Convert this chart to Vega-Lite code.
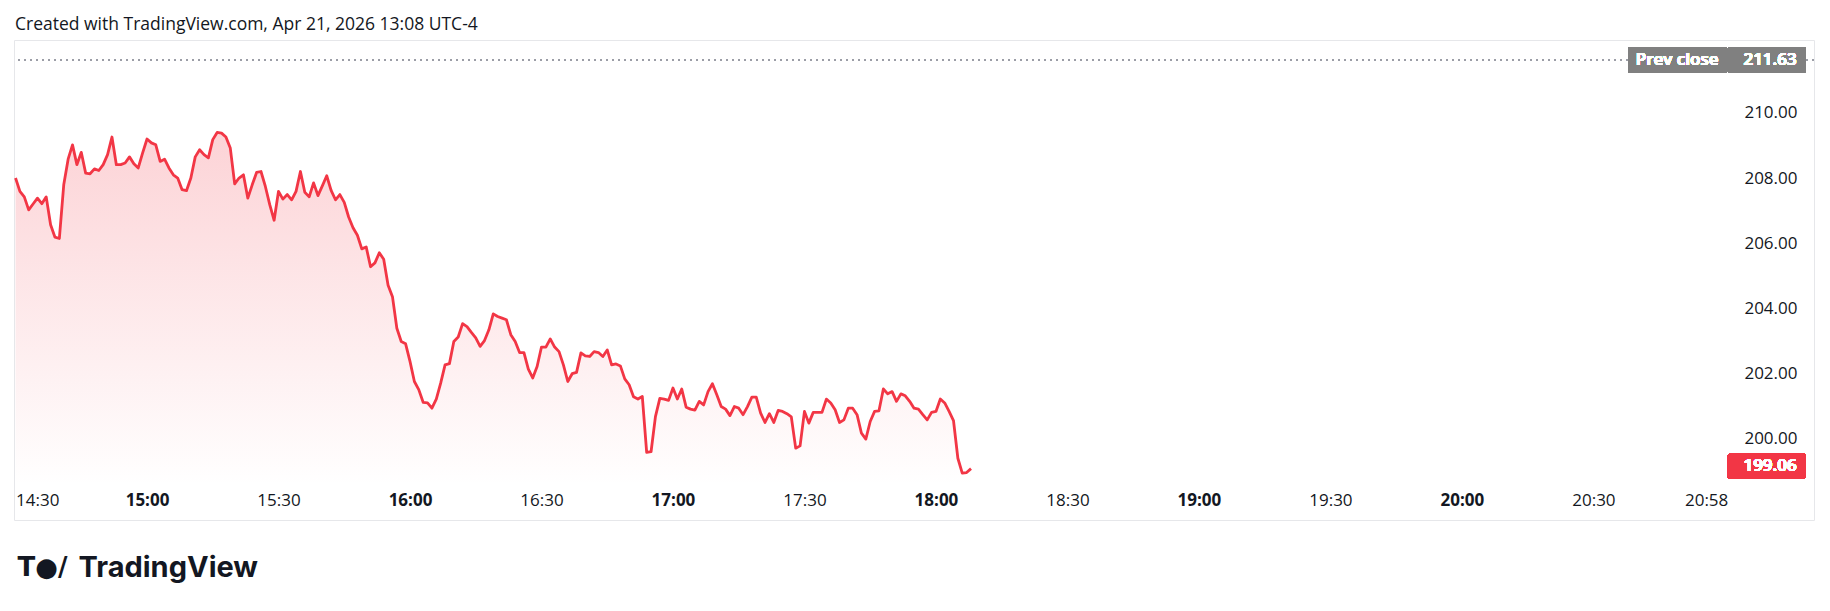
{
"$schema": "https://vega.github.io/schema/vega-lite/v6.json",
"width": 1800,
"height": 480,
"autosize": {"type": "none"},
"padding": {"left": 14, "top": 40, "right": 16, "bottom": 91},
"background": "#ffffff",
"title": {"text": "Created with TradingView.com, Apr 21, 2026 13:08 UTC-4", "anchor": "start", "frame": "group", "font": "Open Sans", "fontSize": 17.5, "fontWeight": "normal", "color": "#131722", "baseline": "alphabetic", "offset": 11, "dx": 1, "dy": 18},
"config": {"view": {"stroke": "#e6e7ea", "strokeWidth": 1}, "font": "Open Sans"},
"data": {"values": [
{"t":"2026-04-21T14:30","p":208.00},{"t":"2026-04-21T14:31","p":207.59},{"t":"2026-04-21T14:32","p":207.42},{"t":"2026-04-21T14:33","p":207.02},{"t":"2026-04-21T14:34","p":207.20},{"t":"2026-04-21T14:35","p":207.38},{"t":"2026-04-21T14:36","p":207.21},{"t":"2026-04-21T14:37","p":207.42},{"t":"2026-04-21T14:38","p":206.56},{"t":"2026-04-21T14:39","p":206.18},
{"t":"2026-04-21T14:40","p":206.14},{"t":"2026-04-21T14:41","p":207.79},{"t":"2026-04-21T14:42","p":208.58},{"t":"2026-04-21T14:43","p":209.02},{"t":"2026-04-21T14:44","p":208.41},{"t":"2026-04-21T14:45","p":208.79},{"t":"2026-04-21T14:46","p":208.15},{"t":"2026-04-21T14:47","p":208.13},{"t":"2026-04-21T14:48","p":208.28},{"t":"2026-04-21T14:49","p":208.23},
{"t":"2026-04-21T14:50","p":208.41},{"t":"2026-04-21T14:51","p":208.72},{"t":"2026-04-21T14:52","p":209.26},{"t":"2026-04-21T14:53","p":208.41},{"t":"2026-04-21T14:54","p":208.41},{"t":"2026-04-21T14:55","p":208.46},{"t":"2026-04-21T14:56","p":208.65},{"t":"2026-04-21T14:57","p":208.44},{"t":"2026-04-21T14:58","p":208.31},{"t":"2026-04-21T14:59","p":208.77},
{"t":"2026-04-21T15:00","p":209.20},{"t":"2026-04-21T15:01","p":209.08},{"t":"2026-04-21T15:02","p":209.02},{"t":"2026-04-21T15:03","p":208.51},{"t":"2026-04-21T15:04","p":208.58},{"t":"2026-04-21T15:05","p":208.31},{"t":"2026-04-21T15:06","p":208.10},{"t":"2026-04-21T15:07","p":208.00},{"t":"2026-04-21T15:08","p":207.64},{"t":"2026-04-21T15:09","p":207.61},
{"t":"2026-04-21T15:10","p":208.00},{"t":"2026-04-21T15:11","p":208.65},{"t":"2026-04-21T15:12","p":208.87},{"t":"2026-04-21T15:13","p":208.72},{"t":"2026-04-21T15:14","p":208.62},{"t":"2026-04-21T15:15","p":209.18},{"t":"2026-04-21T15:16","p":209.40},{"t":"2026-04-21T15:17","p":209.38},{"t":"2026-04-21T15:18","p":209.26},{"t":"2026-04-21T15:19","p":208.92},
{"t":"2026-04-21T15:20","p":207.82},{"t":"2026-04-21T15:21","p":208.00},{"t":"2026-04-21T15:22","p":208.10},{"t":"2026-04-21T15:23","p":207.38},{"t":"2026-04-21T15:24","p":207.79},{"t":"2026-04-21T15:25","p":208.17},{"t":"2026-04-21T15:26","p":208.20},{"t":"2026-04-21T15:27","p":207.74},{"t":"2026-04-21T15:28","p":207.18},{"t":"2026-04-21T15:29","p":206.70},
{"t":"2026-04-21T15:30","p":207.59},{"t":"2026-04-21T15:31","p":207.35},{"t":"2026-04-21T15:32","p":207.49},{"t":"2026-04-21T15:33","p":207.33},{"t":"2026-04-21T15:34","p":207.59},{"t":"2026-04-21T15:35","p":208.20},{"t":"2026-04-21T15:36","p":207.56},{"t":"2026-04-21T15:37","p":207.42},{"t":"2026-04-21T15:38","p":207.85},{"t":"2026-04-21T15:39","p":207.46},
{"t":"2026-04-21T15:40","p":207.76},{"t":"2026-04-21T15:41","p":208.07},{"t":"2026-04-21T15:42","p":207.62},{"t":"2026-04-21T15:43","p":207.33},{"t":"2026-04-21T15:44","p":207.49},{"t":"2026-04-21T15:45","p":207.25},{"t":"2026-04-21T15:46","p":206.80},{"t":"2026-04-21T15:47","p":206.47},{"t":"2026-04-21T15:48","p":206.24},{"t":"2026-04-21T15:49","p":205.82},
{"t":"2026-04-21T15:50","p":205.88},{"t":"2026-04-21T15:51","p":205.27},{"t":"2026-04-21T15:52","p":205.39},{"t":"2026-04-21T15:53","p":205.70},{"t":"2026-04-21T15:54","p":205.50},{"t":"2026-04-21T15:55","p":204.70},{"t":"2026-04-21T15:56","p":204.35},{"t":"2026-04-21T15:57","p":203.38},{"t":"2026-04-21T15:58","p":202.97},{"t":"2026-04-21T15:59","p":202.90},
{"t":"2026-04-21T16:00","p":202.36},{"t":"2026-04-21T16:01","p":201.74},{"t":"2026-04-21T16:02","p":201.49},{"t":"2026-04-21T16:03","p":201.10},{"t":"2026-04-21T16:04","p":201.08},{"t":"2026-04-21T16:05","p":200.92},{"t":"2026-04-21T16:06","p":201.20},{"t":"2026-04-21T16:07","p":201.69},{"t":"2026-04-21T16:08","p":202.25},{"t":"2026-04-21T16:09","p":202.29},
{"t":"2026-04-21T16:10","p":202.97},{"t":"2026-04-21T16:11","p":203.11},{"t":"2026-04-21T16:12","p":203.52},{"t":"2026-04-21T16:13","p":203.43},{"t":"2026-04-21T16:14","p":203.25},{"t":"2026-04-21T16:15","p":203.08},{"t":"2026-04-21T16:16","p":202.82},{"t":"2026-04-21T16:17","p":203.00},{"t":"2026-04-21T16:18","p":203.33},{"t":"2026-04-21T16:19","p":203.82},
{"t":"2026-04-21T16:20","p":203.74},{"t":"2026-04-21T16:21","p":203.69},{"t":"2026-04-21T16:22","p":203.64},{"t":"2026-04-21T16:23","p":203.18},{"t":"2026-04-21T16:24","p":202.97},{"t":"2026-04-21T16:25","p":202.63},{"t":"2026-04-21T16:26","p":202.63},{"t":"2026-04-21T16:27","p":202.12},{"t":"2026-04-21T16:28","p":201.85},{"t":"2026-04-21T16:29","p":202.20},
{"t":"2026-04-21T16:30","p":202.80},{"t":"2026-04-21T16:31","p":202.80},{"t":"2026-04-21T16:32","p":203.05},{"t":"2026-04-21T16:33","p":202.80},{"t":"2026-04-21T16:34","p":202.66},{"t":"2026-04-21T16:35","p":202.25},{"t":"2026-04-21T16:36","p":201.74},{"t":"2026-04-21T16:37","p":201.98},{"t":"2026-04-21T16:38","p":202.02},{"t":"2026-04-21T16:39","p":202.62},
{"t":"2026-04-21T16:40","p":202.53},{"t":"2026-04-21T16:41","p":202.51},{"t":"2026-04-21T16:42","p":202.66},{"t":"2026-04-21T16:43","p":202.63},{"t":"2026-04-21T16:44","p":202.51},{"t":"2026-04-21T16:45","p":202.71},{"t":"2026-04-21T16:46","p":202.25},{"t":"2026-04-21T16:47","p":202.28},{"t":"2026-04-21T16:48","p":202.22},{"t":"2026-04-21T16:49","p":201.82},
{"t":"2026-04-21T16:50","p":201.64},{"t":"2026-04-21T16:51","p":201.27},{"t":"2026-04-21T16:52","p":201.20},{"t":"2026-04-21T16:53","p":201.28},{"t":"2026-04-21T16:54","p":199.56},{"t":"2026-04-21T16:55","p":199.58},{"t":"2026-04-21T16:56","p":200.66},{"t":"2026-04-21T16:57","p":201.22},{"t":"2026-04-21T16:58","p":201.20},{"t":"2026-04-21T16:59","p":201.16},
{"t":"2026-04-21T17:00","p":201.54},{"t":"2026-04-21T17:01","p":201.20},{"t":"2026-04-21T17:02","p":201.51},{"t":"2026-04-21T17:03","p":200.95},{"t":"2026-04-21T17:04","p":200.89},{"t":"2026-04-21T17:05","p":200.86},{"t":"2026-04-21T17:06","p":201.13},{"t":"2026-04-21T17:07","p":201.02},{"t":"2026-04-21T17:08","p":201.43},{"t":"2026-04-21T17:09","p":201.67},
{"t":"2026-04-21T17:10","p":201.33},{"t":"2026-04-21T17:11","p":200.97},{"t":"2026-04-21T17:12","p":200.89},{"t":"2026-04-21T17:13","p":200.69},{"t":"2026-04-21T17:14","p":200.97},{"t":"2026-04-21T17:15","p":200.92},{"t":"2026-04-21T17:16","p":200.72},{"t":"2026-04-21T17:17","p":200.97},{"t":"2026-04-21T17:18","p":201.26},{"t":"2026-04-21T17:19","p":201.26},
{"t":"2026-04-21T17:20","p":200.77},{"t":"2026-04-21T17:21","p":200.48},{"t":"2026-04-21T17:22","p":200.75},{"t":"2026-04-21T17:23","p":200.48},{"t":"2026-04-21T17:24","p":200.85},{"t":"2026-04-21T17:25","p":200.82},{"t":"2026-04-21T17:26","p":200.75},{"t":"2026-04-21T17:27","p":200.65},{"t":"2026-04-21T17:28","p":199.69},{"t":"2026-04-21T17:29","p":199.76},
{"t":"2026-04-21T17:30","p":200.82},{"t":"2026-04-21T17:31","p":200.46},{"t":"2026-04-21T17:32","p":200.79},{"t":"2026-04-21T17:33","p":200.79},{"t":"2026-04-21T17:34","p":200.79},{"t":"2026-04-21T17:35","p":201.20},{"t":"2026-04-21T17:36","p":201.08},{"t":"2026-04-21T17:37","p":200.87},{"t":"2026-04-21T17:38","p":200.48},{"t":"2026-04-21T17:39","p":200.56},
{"t":"2026-04-21T17:40","p":200.92},{"t":"2026-04-21T17:41","p":200.92},{"t":"2026-04-21T17:42","p":200.72},{"t":"2026-04-21T17:43","p":200.15},{"t":"2026-04-21T17:44","p":199.97},{"t":"2026-04-21T17:45","p":200.51},{"t":"2026-04-21T17:46","p":200.82},{"t":"2026-04-21T17:47","p":200.84},{"t":"2026-04-21T17:48","p":201.51},{"t":"2026-04-21T17:49","p":201.36},
{"t":"2026-04-21T17:50","p":201.43},{"t":"2026-04-21T17:51","p":201.13},{"t":"2026-04-21T17:52","p":201.36},{"t":"2026-04-21T17:53","p":201.30},{"t":"2026-04-21T17:54","p":201.13},{"t":"2026-04-21T17:55","p":200.92},{"t":"2026-04-21T17:56","p":200.89},{"t":"2026-04-21T17:57","p":200.72},{"t":"2026-04-21T17:58","p":200.56},{"t":"2026-04-21T17:59","p":200.79},
{"t":"2026-04-21T18:00","p":200.82},{"t":"2026-04-21T18:01","p":201.20},{"t":"2026-04-21T18:02","p":201.08},{"t":"2026-04-21T18:03","p":200.82},{"t":"2026-04-21T18:04","p":200.54},{"t":"2026-04-21T18:05","p":199.38},{"t":"2026-04-21T18:06","p":198.92},{"t":"2026-04-21T18:07","p":198.94},{"t":"2026-04-21T18:08","p":199.06}
]},
"layer": [
{"mark": {"type": "area", "line": false, "fill": {"gradient": "linear", "x1": 0, "y1": 1, "x2": 0, "y2": 0, "stops": [{"offset": 0, "color": "rgba(242,54,69,0)"}, {"offset": 1, "color": "rgba(242,54,69,0.22)"}]}},
 "encoding": {
  "x": {"field": "t", "type": "temporal", "title": "TradingView",
   "scale": {"domain": [{"year": 2026, "month": 4, "date": 21, "hours": 14, "minutes": 29, "seconds": 39}, {"year": 2026, "month": 4, "date": 21, "hours": 21, "minutes": 20, "seconds": 20}]},
   "axis": {"values": [
     {"year": 2026, "month": 4, "date": 21, "hours": 14, "minutes": 30},
     {"year": 2026, "month": 4, "date": 21, "hours": 15, "minutes": 0},
     {"year": 2026, "month": 4, "date": 21, "hours": 15, "minutes": 30},
     {"year": 2026, "month": 4, "date": 21, "hours": 16, "minutes": 0},
     {"year": 2026, "month": 4, "date": 21, "hours": 16, "minutes": 30},
     {"year": 2026, "month": 4, "date": 21, "hours": 17, "minutes": 0},
     {"year": 2026, "month": 4, "date": 21, "hours": 17, "minutes": 30},
     {"year": 2026, "month": 4, "date": 21, "hours": 18, "minutes": 0},
     {"year": 2026, "month": 4, "date": 21, "hours": 18, "minutes": 30},
     {"year": 2026, "month": 4, "date": 21, "hours": 19, "minutes": 0},
     {"year": 2026, "month": 4, "date": 21, "hours": 19, "minutes": 30},
     {"year": 2026, "month": 4, "date": 21, "hours": 20, "minutes": 0},
     {"year": 2026, "month": 4, "date": 21, "hours": 20, "minutes": 30},
     {"year": 2026, "month": 4, "date": 21, "hours": 20, "minutes": 58}],
    "format": "%H:%M", "domain": false, "ticks": false, "tickSize": 0, "grid": false,
    "labelPadding": -20, "labelBaseline": "middle", "labelFont": "Open Sans", "labelFontSize": 17, "labelColor": "#131722",
    "labelFlush": false, "labelOverlap": false, "labelBound": false,
    "labelFontWeight": {"condition": {"test": "minutes(datum.value) === 0", "value": "bold"}, "value": "normal"},
    "labelAlign": {"condition": {"test": "hours(datum.value) === 14", "value": "left"}, "value": "center"},
    "labelOffset": {"condition": {"test": "minutes(datum.value) === 58", "value": -10}, "value": 0},
    "titleFont": "Inter", "titleFontSize": 29, "titleFontWeight": "bold", "titleColor": "#131722",
    "titleAnchor": "start", "titleAlign": "left", "titleBaseline": "alphabetic", "titleX": 64, "titleY": 56}},
  "y": {"field": "p", "type": "quantitative", "title": "T●/",
   "scale": {"domain": [197.48, 212.245], "zero": false, "nice": false},
   "axis": {"orient": "right", "values": [200, 202, 204, 206, 208, 210], "format": ".2f", "domain": false, "ticks": false, "tickSize": 0, "grid": false,
    "labelAlign": "right", "labelPadding": -17, "labelBaseline": "middle", "labelFont": "Open Sans", "labelFontSize": 17, "labelColor": "#131722", "labelFlush": false, "labelOverlap": false,
    "titleAngle": 0, "titleX": -1797, "titleY": 535, "titleAlign": "left", "titleBaseline": "alphabetic", "titleFont": "DejaVu Sans", "titleFontWeight": "bold", "titleFontSize": 26, "titleColor": "#131722"}},
  "y2": {"datum": 198.55}
 }},
{"mark": {"type": "line", "color": "#f23645", "strokeWidth": 2.8, "strokeJoin": "round"},
 "encoding": {"x": {"field": "t", "type": "temporal", "title": "TradingView"}, "y": {"field": "p", "type": "quantitative", "title": "T●/"}}},
{"mark": {"type": "rule", "color": "#9a9da5", "strokeDash": [1.2, 4.8], "strokeWidth": 1.2},
 "encoding": {"y": {"datum": 211.63}}},
{"mark": {"type": "rect", "color": "#808080", "cornerRadius": 2},
 "encoding": {
  "x": {"datum": {"year": 2026, "month": 4, "date": 21, "hours": 20, "minutes": 37, "seconds": 58}, "type": "temporal"},
  "x2": {"datum": {"year": 2026, "month": 4, "date": 21, "hours": 21, "minutes": 0, "seconds": 24}},
  "y": {"datum": 212.03}, "y2": {"datum": 211.23}}},
{"mark": {"type": "rect", "color": "#808080", "cornerRadius": 2},
 "encoding": {
  "x": {"datum": {"year": 2026, "month": 4, "date": 21, "hours": 21, "minutes": 0, "seconds": 39}, "type": "temporal"},
  "x2": {"datum": {"year": 2026, "month": 4, "date": 21, "hours": 21, "minutes": 18, "seconds": 27}},
  "y": {"datum": 212.03}, "y2": {"datum": 211.23}}},
{"mark": {"type": "rect", "color": "#f23645", "cornerRadius": 2},
 "encoding": {
  "x": {"datum": {"year": 2026, "month": 4, "date": 21, "hours": 21, "minutes": 0, "seconds": 39}, "type": "temporal"},
  "x2": {"datum": {"year": 2026, "month": 4, "date": 21, "hours": 21, "minutes": 18, "seconds": 27}},
  "y": {"datum": 199.517}, "y2": {"datum": 198.757}}},
{"mark": {"type": "text", "text": "Prev close", "font": "Open Sans", "fontSize": 17, "fontWeight": 600, "color": "#ffffff", "align": "center", "baseline": "middle"},
 "encoding": {
  "x": {"datum": {"year": 2026, "month": 4, "date": 21, "hours": 20, "minutes": 49, "seconds": 6}, "type": "temporal"},
  "y": {"datum": 211.63}}},
{"mark": {"type": "text", "text": "211.63", "font": "Open Sans", "fontSize": 17, "fontWeight": 600, "color": "#ffffff", "align": "right", "baseline": "middle"},
 "encoding": {
  "x": {"datum": {"year": 2026, "month": 4, "date": 21, "hours": 21, "minutes": 16, "seconds": 23}, "type": "temporal"},
  "y": {"datum": 211.63}}},
{"mark": {"type": "text", "text": "199.06", "font": "Open Sans", "fontSize": 17, "fontWeight": 600, "color": "#ffffff", "align": "right", "baseline": "middle"},
 "encoding": {
  "x": {"datum": {"year": 2026, "month": 4, "date": 21, "hours": 21, "minutes": 16, "seconds": 23}, "type": "temporal"},
  "y": {"datum": 199.14}}}
]
}
